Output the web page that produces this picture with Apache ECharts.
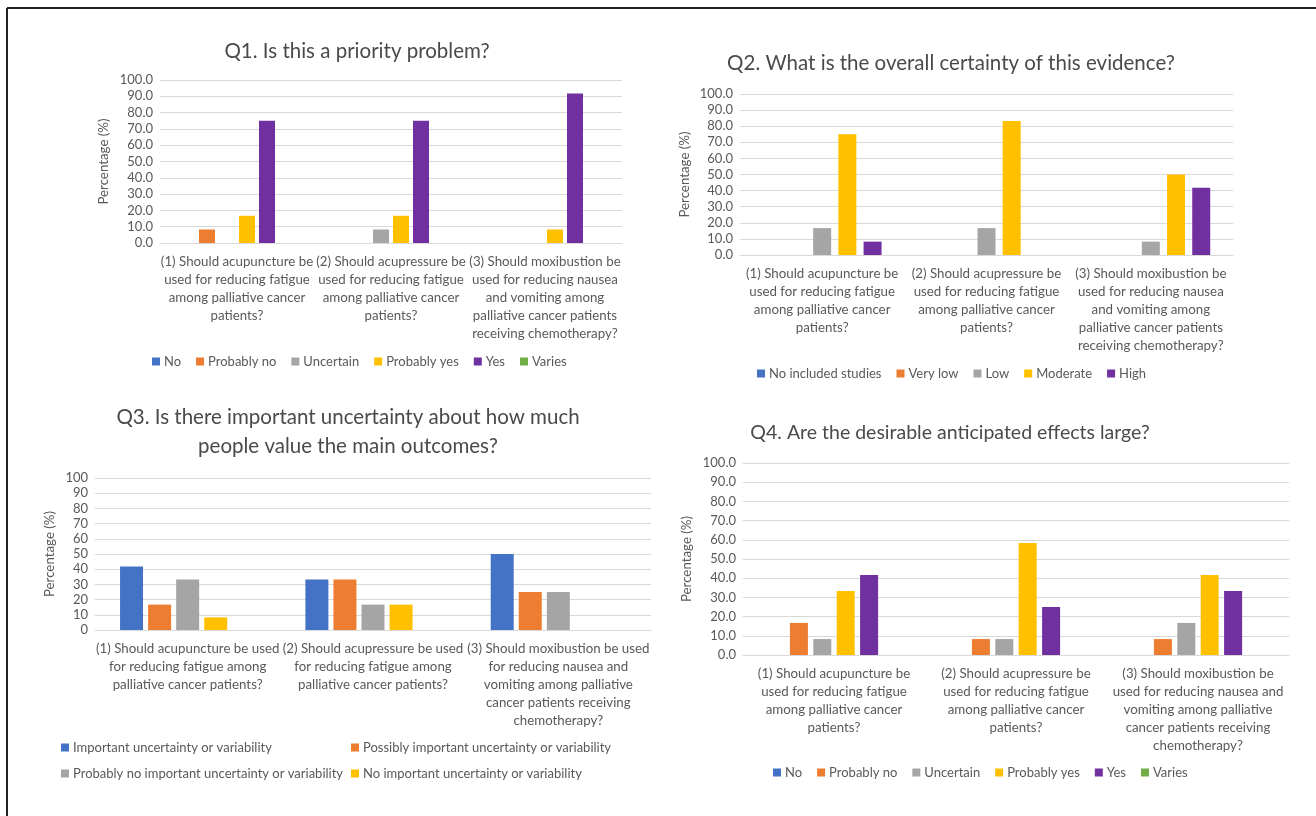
<!DOCTYPE html>
<html>
<head>
<meta charset="utf-8">
<title>Survey results Q1–Q4</title>
<script src="https://cdn.jsdelivr.net/npm/echarts@6/dist/echarts.min.js"></script>
<style>
  html, body { margin: 0; padding: 0; background: #ffffff; }
  #chart { width: 1316px; height: 816px; }
</style>
</head>
<body>
<div id="chart"></div>
<script>
// Category labels (line breaks as laid out under each chart)
const labelsNarrow = [
  '(1) Should acupuncture be\nused for reducing fatigue\namong palliative cancer\npatients?',
  '(2) Should acupressure be\nused for reducing fatigue\namong palliative cancer\npatients?',
  '(3) Should moxibustion be\nused for reducing nausea\nand vomiting among\npalliative cancer patients\nreceiving chemotherapy?'
];
const labelsQ3 = [
  '(1) Should acupuncture be used\nfor reducing fatigue among\npalliative cancer patients?',
  '(2) Should acupressure be used\nfor reducing fatigue among\npalliative cancer patients?',
  '(3) Should moxibustion be used\nfor reducing nausea and\nvomiting among palliative\ncancer patients receiving\nchemotherapy?'
];
const labelsQ4 = [
  '(1) Should acupuncture be\nused for reducing fatigue\namong palliative cancer\npatients?',
  '(2) Should acupressure be\nused for reducing fatigue\namong palliative cancer\npatients?',
  '(3) Should moxibustion be\nused for reducing nausea and\nvomiting among palliative\ncancer patients receiving\nchemotherapy?'
];

// Response options
const answersYesNo = ['No', 'Probably no', 'Uncertain', 'Probably yes', 'Yes', 'Varies'];
const answersCertainty = ['No included studies', 'Very low', 'Low', 'Moderate', 'High'];
const answersUncertainty = [
  'Important uncertainty or variability',
  'Possibly important uncertainty or variability',
  'Probably no important uncertainty or variability',
  'No important uncertainty or variability',
  'Varies'
];

// Q1. Is this a priority problem? (% per question, one array per answer)
const q1No          = [0, 0, 0];
const q1ProbablyNo  = [8.3, 0, 0];
const q1Uncertain   = [0, 8.3, 0];
const q1ProbablyYes = [16.7, 16.7, 8.3];
const q1Yes         = [75.0, 75.0, 91.7];
const q1Varies      = [0, 0, 0];

// Q2. Overall certainty of evidence
const q2NoStudies = [0, 0, 0];
const q2VeryLow   = [0, 0, 0];
const q2Low       = [16.7, 16.7, 8.3];
const q2Moderate  = [75.0, 83.3, 50.0];
const q2High      = [8.3, 0, 41.7];

// Q3. Uncertainty about how people value outcomes
const q3Important   = [41.7, 33.3, 50.0];
const q3Possibly    = [16.7, 33.3, 25.0];
const q3ProbablyNo  = [33.3, 16.7, 25.0];
const q3NoImportant = [8.3, 16.7, 0];
const q3Varies      = [0, 0, 0];

// Q4. Are the desirable anticipated effects large?
const q4No          = [0, 0, 0];
const q4ProbablyNo  = [16.7, 8.3, 8.3];
const q4Uncertain   = [8.3, 8.3, 16.7];
const q4ProbablyYes = [33.3, 58.3, 41.7];
const q4Yes         = [41.7, 25.0, 33.3];
const q4Varies      = [0, 0, 0];

// Excel-style palette
const COLORS = {
  blue: '#4472C4', orange: '#ED7D31', gray: '#A5A5A5',
  yellow: '#FFC000', purple: '#7030A0', green: '#70AD47'
};
const FONT = 'Lato, "Open Sans", sans-serif';
const TEXT = '#595959';
const GRIDLINE = '#D9D9D9';

const chart = echarts.init(document.getElementById('chart'), null, { renderer: 'canvas' });

const grids = [
  { left: 160, top: 80,  width: 462, height: 163 },   // Q1
  { left: 740, top: 94,  width: 493, height: 161 },   // Q2
  { left: 95,  top: 478, width: 556, height: 152 },   // Q3
  { left: 743, top: 463, width: 546, height: 192 }    // Q4
];
const nameGaps = [50, 49, 39, 50];
const decimals = [1, 1, 0, 1];
const catLabels = [labelsNarrow, labelsNarrow, labelsQ3, labelsQ4];

const xAxes = catLabels.map((cats, i) => ({
  type: 'category',
  gridIndex: i,
  data: cats,
  axisTick: { show: false },
  axisLine: { lineStyle: { color: GRIDLINE, width: 1 } },
  axisLabel: {
    interval: 0, color: TEXT, fontFamily: FONT, fontSize: 13.3,
    lineHeight: 18, margin: 10, align: 'center'
  }
}));

const yAxes = grids.map((g, i) => ({
  type: 'value',
  gridIndex: i,
  min: 0, max: 100, interval: 10,
  name: 'Percentage (%)',
  nameLocation: 'middle',
  nameGap: nameGaps[i],
  nameTextStyle: { color: TEXT, fontFamily: FONT, fontSize: 13.3 },
  axisLine: { show: false },
  axisTick: { show: false },
  splitLine: { lineStyle: { color: GRIDLINE, width: 1 } },
  axisLabel: {
    color: TEXT, fontFamily: FONT, fontSize: 13, margin: 7,
    formatter: v => v.toFixed(decimals[i])
  }
}));

function barSeries(name, data, color, axisIdx, barWidth, barGap) {
  return {
    type: 'bar', name, data,
    xAxisIndex: axisIdx, yAxisIndex: axisIdx,
    barWidth, barGap,
    itemStyle: { color },
    emphasis: { disabled: true }
  };
}

const series = [
  // Q1
  barSeries(answersYesNo[0], q1No,          COLORS.blue,   0, 16, '25%'),
  barSeries(answersYesNo[1], q1ProbablyNo,  COLORS.orange, 0, 16, '25%'),
  barSeries(answersYesNo[2], q1Uncertain,   COLORS.gray,   0, 16, '25%'),
  barSeries(answersYesNo[3], q1ProbablyYes, COLORS.yellow, 0, 16, '25%'),
  barSeries(answersYesNo[4], q1Yes,         COLORS.purple, 0, 16, '25%'),
  barSeries(answersYesNo[5], q1Varies,      COLORS.green,  0, 16, '25%'),
  // Q2
  barSeries(answersCertainty[0], q2NoStudies, COLORS.blue,   1, 18, '40%'),
  barSeries(answersCertainty[1], q2VeryLow,   COLORS.orange, 1, 18, '40%'),
  barSeries(answersCertainty[2], q2Low,       COLORS.gray,   1, 18, '40%'),
  barSeries(answersCertainty[3], q2Moderate,  COLORS.yellow, 1, 18, '40%'),
  barSeries(answersCertainty[4], q2High,      COLORS.purple, 1, 18, '40%'),
  // Q3 (fifth slot stays empty)
  barSeries(answersUncertainty[0], q3Important,   COLORS.blue,   2, 23, '22%'),
  barSeries(answersUncertainty[1], q3Possibly,    COLORS.orange, 2, 23, '22%'),
  barSeries(answersUncertainty[2], q3ProbablyNo,  COLORS.gray,   2, 23, '22%'),
  barSeries(answersUncertainty[3], q3NoImportant, COLORS.yellow, 2, 23, '22%'),
  barSeries(answersUncertainty[4], q3Varies,      COLORS.purple, 2, 23, '22%'),
  // Q4
  barSeries(answersYesNo[0], q4No,          COLORS.blue,   3, 18, '30%'),
  barSeries(answersYesNo[1], q4ProbablyNo,  COLORS.orange, 3, 18, '30%'),
  barSeries(answersYesNo[2], q4Uncertain,   COLORS.gray,   3, 18, '30%'),
  barSeries(answersYesNo[3], q4ProbablyYes, COLORS.yellow, 3, 18, '30%'),
  barSeries(answersYesNo[4], q4Yes,         COLORS.purple, 3, 18, '30%'),
  barSeries(answersYesNo[5], q4Varies,      COLORS.green,  3, 18, '30%')
];

const titleStyle = { color: '#4a4a4a', fontFamily: FONT, fontWeight: 'normal', lineHeight: 29 };
const titles = [
  { text: 'Q1. Is this a priority problem?', left: 357, top: 37, size: 20.5 },
  { text: 'Q2. What is the overall certainty of this evidence?', left: 951, top: 49, size: 20.5 },
  { text: 'Q3. Is there important uncertainty about how much\npeople value the main outcomes?', left: 348, top: 403, size: 20.5 },
  { text: 'Q4. Are the desirable anticipated effects large?', left: 950, top: 418, size: 19.5 }
].map(t => ({
  text: t.text, left: t.left, top: t.top, textAlign: 'center', padding: 0,
  textStyle: Object.assign({ fontSize: t.size }, titleStyle)
}));

const legendBase = {
  icon: 'rect', itemWidth: 8, itemHeight: 8, itemGap: 15, padding: 0,
  selectedMode: false,
  textStyle: { color: TEXT, fontFamily: FONT, fontSize: 13, padding: [0, 0, 0, -1] }
};
const legends = [
  Object.assign({}, legendBase, { data: answersYesNo, left: 152, top: 355 }),
  Object.assign({}, legendBase, { data: answersCertainty, left: 757, top: 367 }),
  Object.assign({}, legendBase, { data: [answersUncertainty[0]], left: 61, top: 741 }),
  Object.assign({}, legendBase, { data: [answersUncertainty[1]], left: 351, top: 741 }),
  Object.assign({}, legendBase, { data: [answersUncertainty[2]], left: 61, top: 767 }),
  Object.assign({}, legendBase, { data: [answersUncertainty[3]], left: 351, top: 767 }),
  Object.assign({}, legendBase, { data: answersYesNo, left: 773, top: 766 })
];

chart.setOption({
  animation: false,
  backgroundColor: '#ffffff',
  title: titles,
  legend: legends,
  grid: grids.map(g => Object.assign({ containLabel: false }, g)),
  xAxis: xAxes,
  yAxis: yAxes,
  series,
  graphic: [
    // frame edges along the top and left of the figure
    { type: 'line', shape: { x1: 7, y1: 8, x2: 1316, y2: 8 }, style: { stroke: '#222222', lineWidth: 2 } },
    { type: 'line', shape: { x1: 7, y1: 8, x2: 7, y2: 816 }, style: { stroke: '#222222', lineWidth: 2 } }
  ]
});
</script>
</body>
</html>
